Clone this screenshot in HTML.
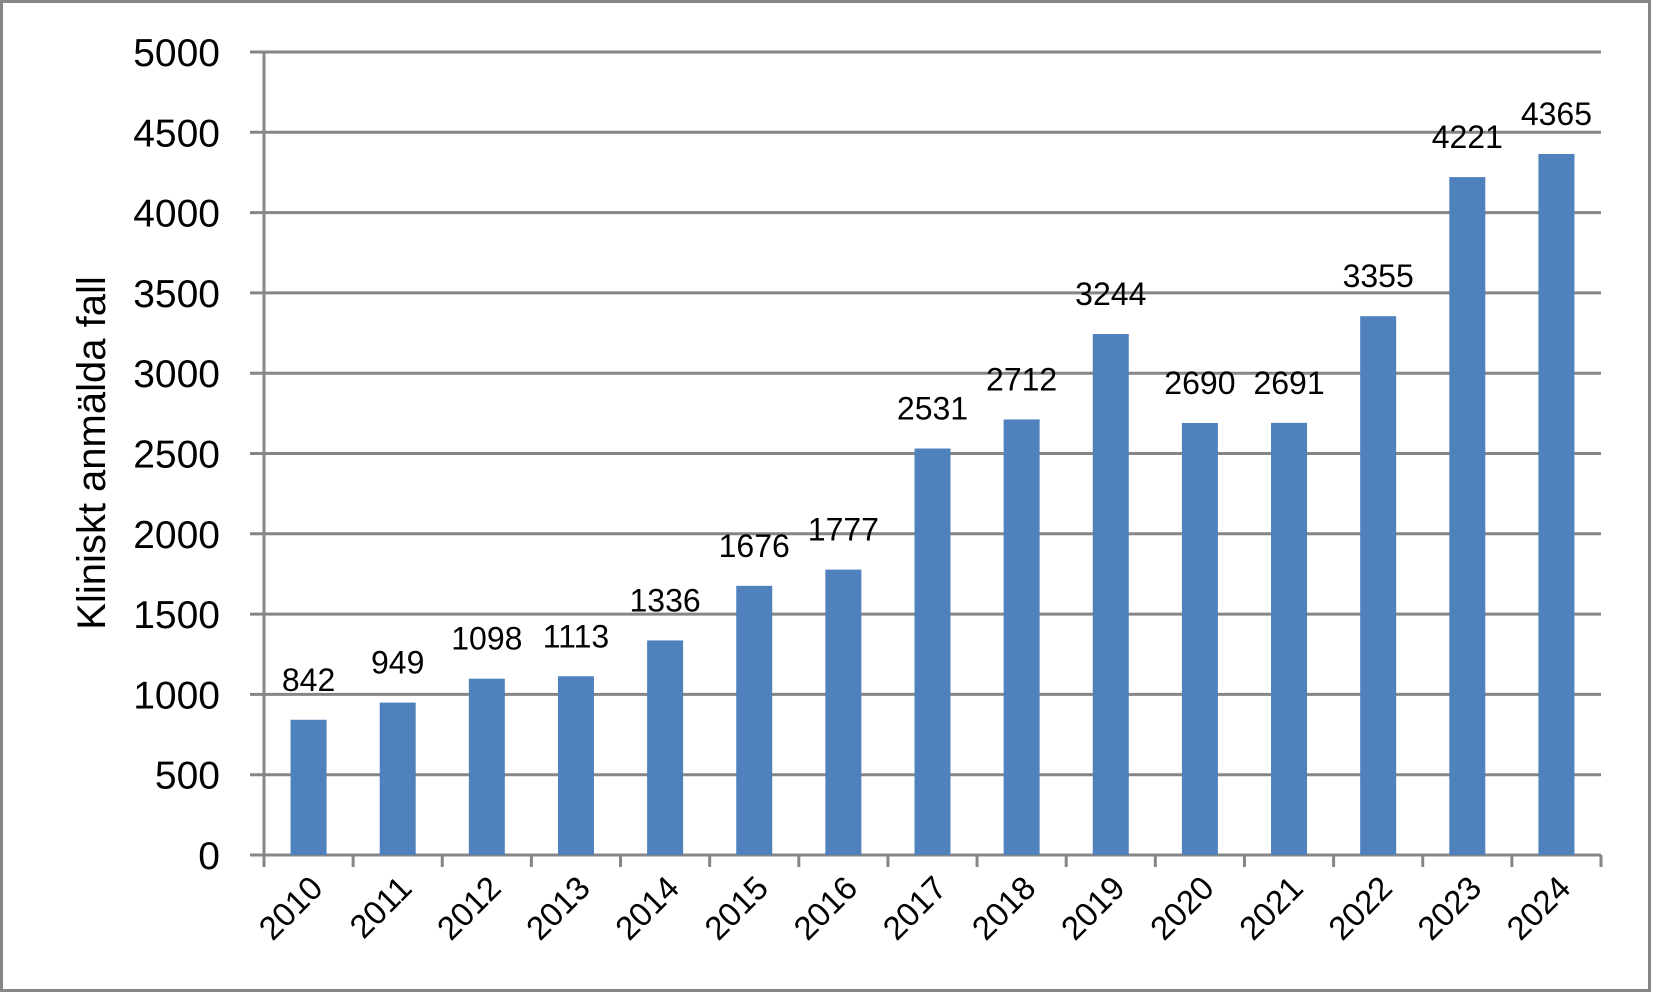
<!DOCTYPE html>
<html><head><meta charset="utf-8"><style>
html,body{margin:0;padding:0;background:#fff;}
svg{display:block;font-family:"Liberation Sans",sans-serif;}
</style></head><body>
<svg id="chart" width="1653" height="993" viewBox="0 0 1653 993">
<rect x="1.5" y="1.5" width="1648" height="989" fill="#fff" stroke="#868686" stroke-width="3"/>
<g id="grid"></g><g id="bars"></g><g id="labels"></g>
<text transform="translate(105,453) rotate(-90)" text-anchor="middle" font-size="40" fill="#000">Kliniskt anmälda fall</text>
</svg>
<script>
const categories=["2010","2011","2012","2013","2014","2015","2016","2017","2018","2019","2020","2021","2022","2023","2024"];
const values=[842,949,1098,1113,1336,1676,1777,2531,2712,3244,2690,2691,3355,4221,4365];
const yTicks=[0,500,1000,1500,2000,2500,3000,3500,4000,4500,5000];
const NS="http://www.w3.org/2000/svg";
const x0=264,x1=1601,yTop=52,yBot=855,yMax=5000;
const y=v=>yBot-(v/yMax)*(yBot-yTop);
const bw=(x1-x0)/categories.length;
const xc=i=>x0+(i+0.5)*bw;
function mk(tag,attrs,parent){const e=document.createElementNS(NS,tag);for(const k in attrs)e.setAttribute(k,attrs[k]);parent.appendChild(e);return e;}
const grid=document.getElementById('grid'),bars=document.getElementById('bars'),labels=document.getElementById('labels');
yTicks.forEach(t=>{
  const l=mk('line',{x1:x0-14,x2:x1,y1:y(t),y2:y(t),stroke:'#868686','stroke-width':3},grid);
  
  
  const tx=mk('text',{x:220,y:y(t)+14,'text-anchor':'end','font-size':39,fill:'#000'},grid);
  tx.textContent=t;
  
  
});
const ya=mk('line',{x1:x0,x2:x0,y1:yTop,y2:yBot,stroke:'#868686','stroke-width':3},grid);


for(let i=0;i<=categories.length;i++){
  const tk=mk('line',{x1:x0+i*bw,x2:x0+i*bw,y1:yBot,y2:yBot+12,stroke:'#868686','stroke-width':3},grid);
  
  
}
categories.forEach((c,i)=>{
  const v=values[i];
  const r=mk('rect',{x:xc(i)-18,y:y(v),width:36,height:yBot-y(v),fill:'#4f81bd'},bars);
  
  
  const vl=mk('text',{x:xc(i),y:y(v)-29,'text-anchor':'middle','font-size':32,fill:'#000'},labels);
  vl.textContent=v;
  
  
  const xl=mk('text',{transform:`translate(${xc(i)+16},${yBot+35}) rotate(-45)`,'text-anchor':'end','font-size':33,fill:'#000'},labels);
  xl.textContent=c;
  
  
});
const xa=mk('line',{x1:x0,x2:x1,y1:yBot,y2:yBot,stroke:'#868686','stroke-width':3},grid);


</script>
</body></html>
